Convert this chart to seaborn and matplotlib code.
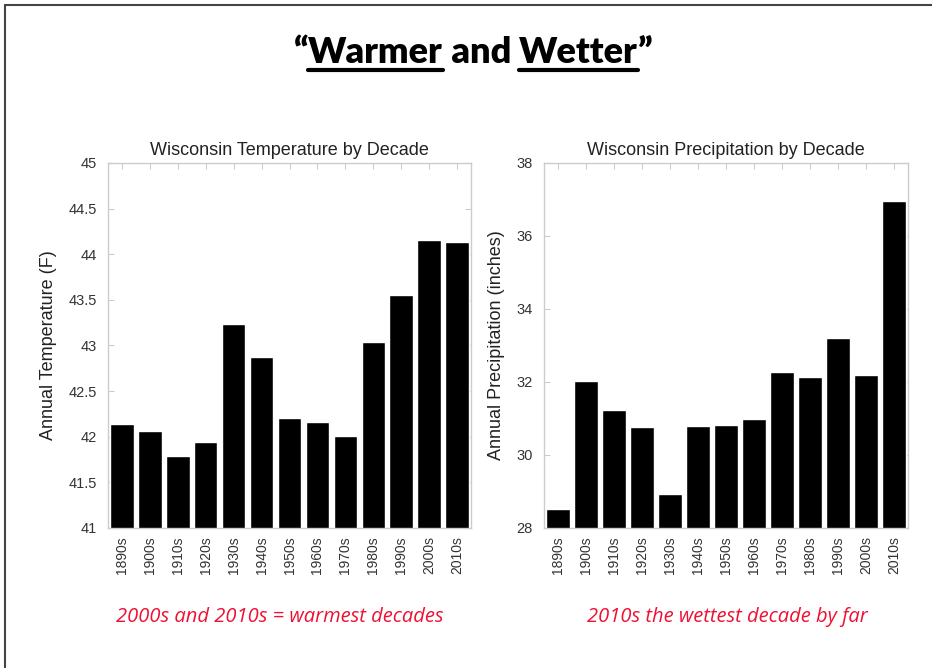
import matplotlib
matplotlib.use('Agg')
import matplotlib.pyplot as plt
import seaborn as sns
from matplotlib.lines import Line2D

# decade averages
decades = ['1890s', '1900s', '1910s', '1920s', '1930s', '1940s', '1950s',
           '1960s', '1970s', '1980s', '1990s', '2000s', '2010s']
temp_f = [42.14, 42.06, 41.79, 41.94, 43.24, 42.87, 42.20,
          42.16, 42.01, 43.04, 43.55, 44.16, 44.13]
precip_in = [28.52, 32.03, 31.23, 30.77, 28.93, 30.80, 30.82,
             30.98, 32.27, 32.15, 33.21, 32.19, 36.95]
temp_ticks = [41, 41.5, 42, 42.5, 43, 43.5, 44, 44.5, 45]
precip_ticks = [28, 30, 32, 34, 36, 38]

sns.set_style('white')
plt.rcParams['font.family'] = ['Liberation Sans', 'DejaVu Sans']

fig = plt.figure(figsize=(9.32, 6.68), dpi=100)
ax1 = fig.add_axes([0.1159, 0.2096, 0.3895, 0.5464])
ax2 = fig.add_axes([0.5837, 0.2096, 0.3906, 0.5464])


def bar_panel(ax, vals, ticks, title, ylabel):
    sns.barplot(x=decades, y=vals, color='black', width=0.84,
                saturation=1, ax=ax)
    ax.set_ylim(ticks[0], ticks[-1])
    ax.set_yticks(ticks)
    ax.set_yticklabels(['%g' % t for t in ticks])
    ax.set_title(title, fontsize=13, color='#222222', pad=6)
    ax.set_ylabel(ylabel, fontsize=13, color='#222222', labelpad=8)
    ax.set_xlabel('')
    for s in ax.spines.values():
        s.set_color('#cccccc')
        s.set_linewidth(1)
    ax.tick_params(axis='y', direction='in', left=True, right=True,
                   length=4, color='#cccccc', labelsize=10.5,
                   labelcolor='#333333', pad=8)
    ax.tick_params(axis='x', direction='in', top=True, bottom=False,
                   length=4, color='#cccccc', labelsize=10,
                   labelcolor='#333333', rotation=90, pad=6)


bar_panel(ax1, temp_f, temp_ticks, 'Wisconsin Temperature by Decade',
          'Annual Temperature (F)')
bar_panel(ax2, precip_in, precip_ticks, 'Wisconsin Precipitation by Decade',
          'Annual Precipitation (inches)')

# slide title with underlined words
parts = ['\u201c', 'Warmer', ' and ', 'Wetter', '\u201d']
underline = [False, True, False, True, False]
title_font = dict(fontsize=26, fontweight='heavy', family='Lato', color='black')
fig.canvas.draw()
renderer = fig.canvas.get_renderer()
texts = []
widths = []
for p in parts:
    t = fig.text(0, 0, p, ha='left', va='baseline', **title_font)
    bb = t.get_window_extent(renderer)
    texts.append(t)
    widths.append(bb.width)
W = fig.bbox.width
H = fig.bbox.height
total = sum(widths)
x = (W - total) / 2 + 7
base_y = H - 63
for t, w, u in zip(texts, widths, underline):
    t.set_position((x / W, base_y / H))
    if u:
        fig.add_artist(Line2D([x / W, (x + w) / W],
                              [(base_y - 7) / H, (base_y - 7) / H],
                              transform=fig.transFigure, color='black',
                              linewidth=3))
    x += w

# notes under each chart
fig.text(0.300, 1 - 617 / 668, '2000s and 2010s = warmest decades',
         ha='center', va='center', fontsize=14.5, style='italic',
         family='Open Sans', color='#ee1133')
fig.text(0.780, 1 - 617 / 668, '2010s the wettest decade by far',
         ha='center', va='center', fontsize=14.5, style='italic',
         family='Open Sans', color='#ee1133')

# slide frame (top and left edges)
fig.add_artist(Line2D([5 / W, 1], [1 - 5 / H, 1 - 5 / H],
                      transform=fig.transFigure, color='#444444', linewidth=1.5))
fig.add_artist(Line2D([5 / W, 5 / W], [0, 1 - 5 / H],
                      transform=fig.transFigure, color='#444444', linewidth=1.5))

fig.savefig('out.png', dpi=100, facecolor='white')
